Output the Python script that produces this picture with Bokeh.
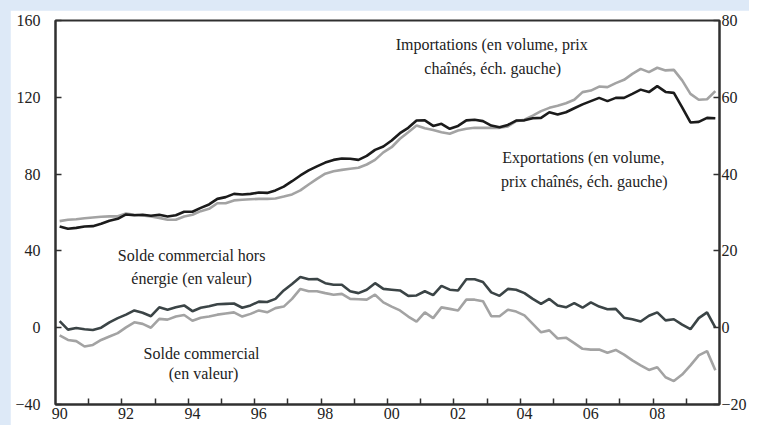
from bokeh.plotting import figure
from bokeh.layouts import column
from bokeh.models import (LinearAxis, Range1d, FixedTicker, CustomJSTickFormatter, Label)
from bokeh.embed import file_html
from bokeh.resources import INLINE

# Quarterly data 1990Q1 - 2009Q4
start_year = 1990
exports = [52.7, 51.5, 52.0, 52.7, 52.9, 54.1, 55.7, 56.7, 59.0, 58.6,
           58.8, 58.3, 58.8, 57.9, 58.6, 60.4, 60.4, 62.4, 64.2, 67.1,
           68.0, 69.7, 69.4, 69.7, 70.4, 70.2, 71.5, 73.5, 76.3, 79.3,
           81.9, 84.0, 86.0, 87.4, 88.1, 88.0, 87.4, 89.5, 92.6, 94.4,
           97.5, 101.3, 104.1, 107.9, 108.0, 105.1, 106.2, 103.6, 105.1, 108.0,
           108.3, 107.6, 105.3, 104.4, 105.6, 107.9, 108.0, 109.1, 109.3, 112.2,
           111.0, 112.2, 114.3, 116.3, 118.0, 119.7, 118.0, 119.7, 119.7, 121.8,
           124.0, 122.7, 125.8, 122.8, 122.3, 114.8, 106.9, 107.2, 109.3, 109.1]
imports = [55.5, 56.2, 56.5, 57.0, 57.4, 57.8, 58.0, 58.0, 59.5, 58.8,
           58.4, 57.9, 57.2, 56.2, 56.2, 57.9, 58.8, 60.7, 61.9, 64.8,
           64.8, 66.3, 66.6, 66.9, 67.1, 67.1, 67.3, 68.3, 69.4, 71.5,
           74.6, 77.5, 80.2, 81.5, 82.2, 82.8, 83.3, 85.0, 87.4, 91.3,
           94.0, 98.4, 101.8, 105.3, 103.9, 103.0, 101.8, 101.0, 102.7, 103.6,
           104.1, 104.1, 104.1, 104.1, 104.8, 107.6, 108.3, 110.5, 112.8, 114.5,
           115.6, 116.9, 118.7, 122.7, 123.5, 125.6, 125.3, 127.4, 129.1, 132.2,
           134.8, 133.1, 135.4, 134.0, 134.3, 128.8, 121.8, 118.7, 119.0, 123.2]
solde_hors_energie = [1.7, -0.5, -0.1, -0.4, -0.6, 0.0, 1.4, 2.5, 3.4, 4.5,
                      3.9, 3.0, 5.3, 4.7, 5.3, 5.8, 4.3, 5.2, 5.6, 6.1,
                      6.2, 6.3, 5.2, 5.8, 6.8, 6.7, 7.5, 9.7, 11.4, 13.2,
                      12.6, 12.7, 11.6, 11.2, 11.2, 9.5, 9.0, 9.9, 11.6, 10.1,
                      9.9, 9.7, 8.3, 8.4, 9.5, 8.5, 10.9, 9.9, 9.7, 12.6,
                      12.6, 11.9, 9.2, 8.3, 10.1, 9.9, 9.0, 7.5, 6.2, 7.5,
                      5.8, 5.3, 6.4, 5.2, 6.6, 5.5, 4.8, 4.9, 2.6, 2.2,
                      1.6, 3.1, 4.0, 1.9, 2.2, 0.8, -0.4, 2.5, 4.0, 0.0]
solde = [-2.0, -3.2, -3.5, -4.9, -4.5, -3.2, -2.3, -1.4, 0.1, 1.4,
         1.0, 0.0, 2.3, 2.1, 2.9, 3.3, 1.8, 2.6, 2.9, 3.4,
         3.7, 4.0, 2.9, 3.6, 4.5, 4.0, 5.1, 5.5, 7.5, 10.1,
         9.5, 9.5, 9.0, 8.6, 8.8, 7.5, 7.4, 7.3, 8.6, 6.6,
         5.5, 4.5, 2.9, 1.6, 4.0, 2.5, 5.3, 4.9, 4.5, 7.3,
         7.3, 6.9, 3.0, 3.0, 4.7, 4.2, 3.2, 1.0, -1.2, -0.7,
         -2.8, -2.6, -4.0, -5.5, -5.7, -5.7, -6.5, -5.8, -7.0, -8.5,
         -9.8, -11.0, -10.3, -12.9, -13.9, -12.2, -9.8, -7.2, -6.1, -11.1]

left_ticks = [-40, 0, 40, 80, 120, 160]
right_ticks = [-20, 0, 20, 40, 60, 80]
year_labels = ["90", "92", "94", "96", "98", "00", "02", "04", "06", "08"]

x = [start_year + i / 4 + 0.125 for i in range(len(exports))]

FONT = "Liberation Serif"
DARK = "#303030"

p = figure(frame_width=664, frame_height=384, output_backend="svg", toolbar_location=None,
           x_range=Range1d(1990, 2010), y_range=Range1d(-40, 160),
           min_border_left=45, min_border_right=24, min_border_top=10, min_border_bottom=21)
p.margin = (10, 0, 0, 10)
p.extra_y_ranges = {"right": Range1d(-20, 80)}
p.background_fill_color = "white"
p.border_fill_color = "white"
p.outline_line_color = DARK
p.outline_line_width = 2
p.xgrid.visible = False
p.ygrid.visible = False

p.line(x, imports, line_color="#a3a3a3", line_width=2.6)
p.line(x, exports, line_color="#1b1b1b", line_width=2.6)
p.line(x, solde, line_color="#a3a3a3", line_width=2.6, y_range_name="right")
p.line(x, solde_hors_energie, line_color="#3b4446", line_width=2.6, y_range_name="right")

# bottom axis: labels at first quarter of even years, ticks at year boundaries
xa = p.xaxis[0]
xa.ticker = FixedTicker(ticks=[start_year + 2 * k + 0.125 for k in range(len(year_labels))],
                        minor_ticks=list(range(1991, 2010)))
xa.formatter = CustomJSTickFormatter(code="return String(Math.floor(tick + 1e-6) % 100).padStart(2, '0');")
xa.major_tick_in = 0
xa.major_tick_out = 0
xa.minor_tick_in = 6
xa.minor_tick_out = 0
xa.minor_tick_line_color = DARK
xa.minor_tick_line_width = 1.5
xa.major_label_standoff = 3

ya = p.yaxis[0]
ya.ticker = FixedTicker(ticks=left_ticks)
ya.major_label_standoff = 15
ya.minor_tick_line_color = None

ra = LinearAxis(y_range_name="right", ticker=FixedTicker(ticks=right_ticks))
ra.major_label_standoff = 2
ra.minor_tick_line_color = None
p.add_layout(ra, "right")

for ax in (xa, ya, ra):
    ax.axis_line_color = DARK
    ax.axis_line_width = 2
    ax.major_label_text_font = FONT
    ax.major_label_text_font_size = "16px"
    ax.major_label_text_color = "#222222"
for ax in (ya, ra):
    ax.major_tick_in = 6
    ax.major_tick_out = 0
    ax.major_tick_line_color = DARK
    ax.major_tick_line_width = 1.5

annotations = [
    ("Importations (en volume, prix", 2003.14, 147.5),
    ("chaînés, éch. gauche)", 2003.17, 135.0),
    ("Exportations (en volume,", 2005.9, 88.6),
    ("prix chaînés, éch. gauche)", 2005.93, 76.1),
    ("Solde commercial hors", 1994.1, 37.6),
    ("énergie (en valeur)", 1994.1, 25.6),
    ("Solde commercial", 1994.4, -13.6),
    ("(en valeur)", 1994.46, -24.0),
]
for txt, tx, ty in annotations:
    p.add_layout(Label(x=tx, y=ty, text=txt, text_align="center", text_baseline="middle",
                       text_font=FONT, text_font_size="16px", text_color="#222222"))

layout = column(p, styles={"background-color": "#dde9f7"})
open("out.html", "w").write(file_html(layout, INLINE))
